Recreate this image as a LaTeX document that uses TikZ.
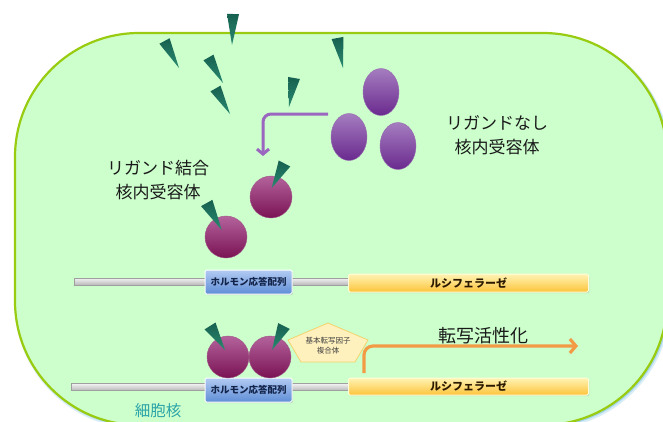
\documentclass[tikz,border=0pt]{standalone}
\usepackage{fontspec}
\newfontfamily\jp{Noto Sans CJK JP}
\usetikzlibrary{calc,shapes.geometric,arrows.meta,shadows}

\definecolor{nucfill}{HTML}{CCFFCC}
\definecolor{nucedge}{HTML}{99CC11}
\definecolor{nucglow}{HTML}{66BBDD}
\definecolor{ligA}{HTML}{16604F}
\definecolor{ligB}{HTML}{2A8A70}
\definecolor{freeA}{HTML}{A57DC0}
\definecolor{freeB}{HTML}{6A2A8E}
\definecolor{boundA}{HTML}{B4639C}
\definecolor{boundB}{HTML}{7A1254}
\definecolor{arrowPurple}{HTML}{9A66C0}
\definecolor{arrowOrange}{HTML}{F39A45}
\definecolor{hreA}{HTML}{B2CBF2}
\definecolor{hreB}{HTML}{5F8ED6}
\definecolor{hreText}{HTML}{13244A}
\definecolor{lucA}{HTML}{FFF4B4}
\definecolor{lucB}{HTML}{FCC33A}
\definecolor{lucText}{HTML}{2B1A00}
\definecolor{gtfFill}{HTML}{FFF1BE}
\definecolor{gtfEdge}{HTML}{F2D36E}
\definecolor{nucText}{HTML}{2AA3A8}

% ligand wedge: base centre, tip, half width of the base
\newcommand\ligand[3]{%
  \shade[top color=ligA,bottom color=ligB]
    ($(#1)!#3!90:(#2)$) -- ($(#1)!#3!-90:(#2)$) -- (#2) -- cycle;}

\begin{document}
\begin{tikzpicture}[x=1pt,y=-1pt,
  free/.style={ellipse, minimum width=36pt, minimum height=47pt, inner sep=0pt,
    top color=freeA, bottom color=freeB, draw=freeB!70, line width=0.4pt},
  bound/.style={circle, minimum size=42pt, inner sep=0pt,
    top color=boundA, bottom color=boundB, draw=boundB!70, line width=0.4pt},
  lbl/.style={font=\jp\fontsize{17}{24}\selectfont, align=center, text=black!90, inner sep=0pt},
  dna/.style={rectangle, inner sep=0pt, top color=gray!10, bottom color=gray!55,
    draw=gray!75, line width=0.5pt},
  hre/.style={rectangle, rounded corners=1.5pt, inner sep=0pt, minimum width=87pt,
    top color=hreA, bottom color=hreB, draw=white, line width=1pt,
    drop shadow={opacity=0.3, shadow xshift=0.8pt, shadow yshift=-1.2pt},
    font=\jp\bfseries\fontsize{9.5}{11}\selectfont, text=hreText},
  luc/.style={rectangle, rounded corners=1.5pt, inner sep=0pt, minimum width=240pt,
    top color=lucA, bottom color=lucB, draw=white!85!yellow, line width=1pt,
    drop shadow={opacity=0.25, shadow xshift=0.8pt, shadow yshift=-1.2pt},
    font=\jp\bfseries\fontsize{11}{12}\selectfont, text=lucText},
  parrow/.style={draw=arrowPurple, line width=3pt, rounded corners=8pt,
    -{Straight Barb[length=5pt,width=12pt]}},
  oarrow/.style={draw=arrowOrange, line width=3.2pt, rounded corners=9pt,
    -{Straight Barb[length=6pt,width=14pt]}}
]
\useasboundingbox (0,0) rectangle (663,421);
\clip (0,0) rectangle (663,421);
\fill[white] (0,0) rectangle (663,421);

% nucleus, with a soft bluish rim outside its lower right edge
\draw[nucglow, line width=4pt, opacity=.25, rounded corners=124pt]
  (16.5,35) rectangle (668.5,427);
\draw[nucglow, line width=2pt, opacity=.45, rounded corners=124pt]
  (16,34) rectangle (668,426);
\draw[fill=nucfill, draw=nucedge, line width=2.2pt, rounded corners=124pt]
  (15,33) rectangle (667,425);

% reporter construct without bound receptor
\node[dna, minimum width=275pt, minimum height=7pt] (dna1) at (211.5,281.5) {};
\node[hre, minimum height=24pt] (hre1) at (248.5,282) {ホルモン応答配列};
\node[luc, minimum height=18pt] (luc1) at (468.5,283) {ルシフェラーゼ};

% reporter construct with bound receptor dimer
\node[dna, minimum width=278pt, minimum height=7pt] (dna2) at (210,387) {};
\node[hre, minimum height=24pt] (hre2) at (248.5,390) {ホルモン応答配列};
\node[luc, minimum height=17pt] (luc2) at (468.5,386.5) {ルシフェラーゼ};

% free ligands
\ligand{233,14}{232,45}{6pt}
\ligand{164.5,41}{179,68}{5.8pt}
\ligand{208.5,57.5}{223,83}{5.8pt}
\ligand{215.5,88.5}{230,114}{5.8pt}
\ligand{294,78}{289,107}{6pt}
\ligand{337.5,38}{343,68}{6pt}

% receptors without ligand
\node[free] (free1) at (381,92) {};
\node[free] (free2) at (349,137) {};
\node[free] (free3) at (398,146) {};

% ligand-bound receptors
\node[bound] (bound1) at (271,197) {};
\node[bound] (bound2) at (226,237) {};
\ligand{284.5,163.5}{271.7,188}{6.5pt}
\ligand{206.7,203}{221.7,230}{6.5pt}

% receptor dimer on the response element
\node[bound] (bound3) at (228,357) {};
\node[bound] (bound4) at (270,357) {};
\ligand{210,326}{225,350}{6.5pt}
\ligand{284,326}{272,350}{6.5pt}

% general transcription factor complex
\draw[fill=gtfFill, draw=gtfEdge, line width=0.8pt, line join=round]
  (328,323) -- (368,340) -- (355,362) -- (301,362) -- (288,340) -- cycle;
\node[font=\jp\fontsize{7.5}{10}\selectfont, align=center, text=black!75, inner sep=0pt]
  (gtf) at (328,345.5) {基本転写因子\\複合体};

% ligand binding
\coordinate (bindStart) at (328,114);
\coordinate (bindEnd) at (263,156);
\draw[parrow] (bindStart) -| (bindEnd);

% transcription start
\coordinate (tss) at (364,373);
\coordinate (txEnd) at (578,346);
\draw[oarrow] (tss) |- (txEnd);

% labels
\node[lbl] (freeLbl) at (497,135) {リガンドなし\\核内受容体};
\node[lbl] (boundLbl) at (158,180) {リガンド結合\\核内受容体};
\node[lbl, font=\jp\fontsize{18}{22}\selectfont] (txLbl) at (483,336) {転写活性化};
\node[lbl, font=\jp\fontsize{15.5}{18}\selectfont, text=nucText] (nucLbl) at (158,411) {細胞核};
\end{tikzpicture}
\end{document}
